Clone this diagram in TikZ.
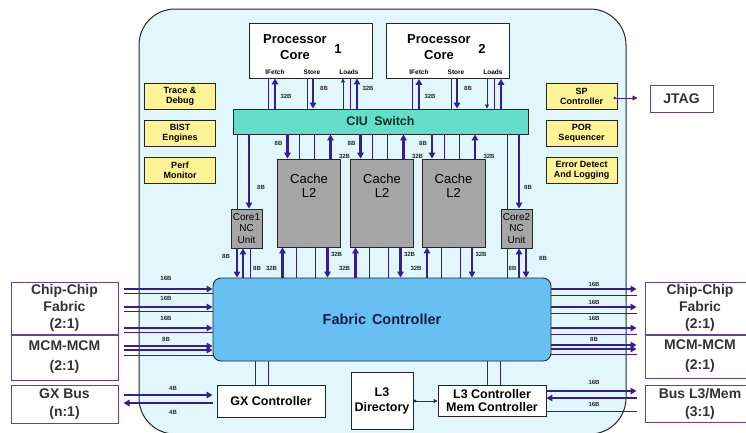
\documentclass[tikz,border=0pt]{standalone}
\usepackage{fontspec}
\setmainfont{Liberation Sans}
\usetikzlibrary{arrows.meta,positioning}
\definecolor{chipcyan}{RGB}{226,247,252}
\definecolor{ctlyellow}{RGB}{255,243,150}
\definecolor{ciuteal}{RGB}{100,222,202}
\definecolor{ciutext}{RGB}{10,50,40}
\definecolor{l2gray}{RGB}{166,166,166}
\definecolor{fabricblue}{RGB}{104,192,242}
\definecolor{fabrictext}{RGB}{20,30,70}
\definecolor{buspurple}{RGB}{52,30,150}
\definecolor{portpurple}{RGB}{96,64,160}

\begin{document}
\begin{tikzpicture}[x=1pt,y=-1pt,
  unitbox/.style={draw=black!85, line width=0.9pt, inner sep=0pt, align=center},
  corebox/.style={unitbox, fill=white, minimum width=123pt, minimum height=55pt},
  ctlbox/.style={unitbox, fill=ctlyellow, minimum width=71pt, minimum height=26pt,
    font=\fontsize{9}{10}\selectfont\bfseries},
  l2box/.style={unitbox, fill=l2gray, minimum width=63pt, minimum height=88pt},
  ncbox/.style={unitbox, fill=l2gray, minimum width=31pt, minimum height=39pt,
    font=\fontsize{10}{11.5}\selectfont},
  whitebox/.style={unitbox, fill=white, font=\fontsize{12.5}{14}\selectfont\bfseries},
  portbox/.style={draw=portpurple, line width=1pt, fill=white, inner sep=0pt,
    align=center, font=\fontsize{14}{17}\selectfont\bfseries, text=black!80},
  bus/.style={draw=buspurple, line width=2.4pt},
  wire/.style={draw=buspurple, line width=0.9pt},
  toarr/.style={-{Triangle[length=6pt,width=6.5pt]}},
  smallarr/.style={-{Triangle[length=4pt,width=4pt]}},
  bw/.style={font=\fontsize{6}{6}\selectfont\bfseries, text=black!85, inner sep=0pt},
  pinlbl/.style={font=\fontsize{6.5}{6.5}\selectfont\bfseries, inner sep=0pt}
]
  \useasboundingbox (0,0) rectangle (746,432);
  \fill[white] (0,0) rectangle (746,432);
  % chip outline
  \draw[fill=chipcyan, draw=black!85, line width=1pt, rounded corners=36pt]
    (139,9) rectangle (626,434);

  % processor cores
  \node[corebox] (core1) at (310.5,50.5) {};
  \node[corebox] (core2) at (447.5,51) {};
  \foreach \n/\dx in {1/0,2/144} {
    \node[font=\fontsize{13}{16}\selectfont\bfseries, align=center] (core\n-name) at (295+\dx,47) {Processor\\Core};
    \node[font=\fontsize{13}{16}\selectfont\bfseries] (core\n-num) at (338+\dx,49) {\n};
    \node[pinlbl] (core\n-ifetch) at (275+\dx,72) {IFetch};
    \node[pinlbl] (core\n-store) at (312+\dx,72) {Store};
    \node[pinlbl] (core\n-loads) at (349+\dx,72) {Loads};
  }

  % CIU switch
  \node[unitbox, fill=ciuteal, minimum width=295pt, minimum height=25pt,
        font=\fontsize{12.5}{14}\selectfont\bfseries, text=ciutext] (ciu) at (380.5,121.5) {CIU\hspace{0.5em}Switch};

  % control units
  \node[ctlbox] (trace) at (180,96) {Trace \&\\Debug};
  \node[ctlbox] (bist) at (180,133) {BIST\\Engines};
  \node[ctlbox] (perf) at (180,170) {Perf\\Monitor};
  \node[ctlbox] (sp) at (581.5,96) {SP\\Controller};
  \node[ctlbox] (por) at (581.5,133) {POR\\Sequencer};
  \node[ctlbox] (errlog) at (581.5,170) {Error Detect\\And Logging};
  \node[portbox, minimum width=63pt, minimum height=27pt] (jtag) at (681.5,98.5) {JTAG};
  \draw[wire, {Circle[length=2.5pt]}-{Triangle[length=5pt,width=5pt]}, shorten <=-4pt, shorten >=12pt]
    (sp.east |- 0,98) -- (jtag.west |- 0,98);

  % L2 slices and NC units
  \foreach \s/\cx in {a/309,b/382,c/453.5} {
    \node[l2box] (l2\s) at (\cx,203) {};
    \node[font=\fontsize{13}{14}\selectfont, align=center] (l2\s-txt) at (\cx,186) {Cache\\L2};
  }
  \node[ncbox] (nc1) at (246.5,228.5) {Core1\\NC\\Unit};
  \node[ncbox] (nc2) at (516.5,228.5) {Core2\\NC\\Unit};

  % fabric controller
  \node[unitbox, fill=fabricblue, rounded corners=8pt, minimum width=338pt, minimum height=83pt,
        font=\fontsize{14.5}{16}\selectfont\bfseries, text=fabrictext] (fabric) at (382,319.5) {Fabric\hspace{0.4em}Controller};

  % bottom units
  \node[whitebox, minimum width=108pt, minimum height=32pt] (gx) at (271,401) {GX Controller};
  \node[whitebox, minimum width=62pt, minimum height=57pt, font=\fontsize{12.5}{15}\selectfont\bfseries] (l3dir) at (382,400.5) {L3\\Directory};
  \node[whitebox, minimum width=108pt, minimum height=31pt, font=\fontsize{12.5}{13}\selectfont\bfseries] (l3ctl) at (492,400.5) {L3 Controller\\Mem Controller};

  % off-chip ports
  \node[portbox, minimum width=107pt, minimum height=52pt] (ccl) at (64.5,308) {Chip-Chip\\Fabric\\(2:1)};
  \node[portbox, minimum width=107pt, minimum height=46pt, font=\fontsize{14}{20}\selectfont\bfseries] (mcml) at (64.5,357) {MCM-MCM\\(2:1)};
  \node[portbox, minimum width=107pt, minimum height=38pt, font=\fontsize{14}{18}\selectfont\bfseries] (gxb) at (64.5,404) {GX Bus\\(n:1)};
  \node[portbox, minimum width=110pt, minimum height=52pt] (ccr) at (700,308) {Chip-Chip\\Fabric\\(2:1)};
  \node[portbox, minimum width=110pt, minimum height=44pt, font=\fontsize{14}{20}\selectfont\bfseries] (mcmr) at (700,356) {MCM-MCM\\(2:1)};
  \node[portbox, minimum width=110pt, minimum height=37pt, font=\fontsize{14}{18}\selectfont\bfseries] (blr) at (700,403.5) {Bus L3/Mem\\(3:1)};
  \draw[portpurple, line width=2pt] (ccl.south west) -- (ccl.south east);
  \draw[portpurple, line width=2pt] (ccr.south west) -- (ccr.south east);

  % cores <-> CIU
  \foreach \n/\dx in {1/0,2/144} {
    \draw[wire] (ciu.north -| 268+\dx,0) -- (core\n.south -| 268+\dx,0);
    \draw[bus,toarr] (ciu.north -| 275+\dx,0) -- (core\n.south -| 275+\dx,0);
    \draw[wire] (ciu.north -| 307+\dx,0) -- (core\n.south -| 307+\dx,0);
    \draw[bus,toarr] (core\n.south -| 313+\dx,0) -- (ciu.north -| 313+\dx,0);
    \draw[wire] (ciu.north -| 350+\dx,0) -- (core\n.south -| 350+\dx,0);
    \draw[bus,toarr] (ciu.north -| 357+\dx,0) -- (core\n.south -| 357+\dx,0);
    \node[bw] (bw-if\n) at (286+\dx,96) {32B};
    \node[bw] (bw-st\n) at (324+\dx,88) {8B};
  }
  \draw[wire,smallarr] (ciu.north -| 343,0) -- (core1.south -| 343,0);
  \draw[wire,smallarr] (core2.south -| 487,0) -- (ciu.north -| 487,0);
  \node[bw] (bw-ld1) at (368,88) {32B};

  % CIU <-> NC units
  \draw[wire] (ciu.south -| 237,0) -- (nc1.north -| 237,0);
  \draw[bus,toarr] (ciu.south -| 249,0) -- (nc1.north -| 249,0);
  \node[bw] (bw-nc1) at (261,187) {8B};
  \draw[wire] (ciu.south -| 507,0) -- (nc2.north -| 507,0);
  \draw[bus,toarr] (ciu.south -| 519,0) -- (nc2.north -| 519,0);
  \node[bw] (bw-nc2) at (528,187) {8B};

  % CIU <-> L2 <-> fabric
  \foreach \s/\cx in {a/309,b/382,c/453.5} {
    \draw[bus,toarr] (ciu.south -| \cx-21.5,0) -- (l2\s.north -| \cx-21.5,0);
    \draw[wire] (ciu.south -| \cx-9.5,0) -- (l2\s.north -| \cx-9.5,0);
    \draw[wire] (ciu.south -| \cx+5.5,0) -- (l2\s.north -| \cx+5.5,0);
    \draw[bus,toarr] (l2\s.north -| \cx+21.5,0) -- (ciu.south -| \cx+21.5,0);
    \node[bw] (bw-\s-in) at (\cx-30.5,143) {8B};
    \node[bw] (bw-\s-out) at (\cx+35.5,156) {32B};
    \draw[bus,toarr] (fabric.north -| \cx-26.5,0) -- (l2\s.south -| \cx-26.5,0);
    \draw[wire] (fabric.north -| \cx-12.5,0) -- (l2\s.south -| \cx-12.5,0);
    \draw[wire] (fabric.north -| \cx+6.5,0) -- (l2\s.south -| \cx+6.5,0);
    \draw[bus,toarr] (l2\s.south -| \cx+18.5,0) -- (fabric.north -| \cx+18.5,0);
    \node[bw] (bw-\s-fin) at (\cx-37.5,268) {32B};
    \node[bw] (bw-\s-fout) at (\cx+27.5,254) {32B};
  }

  % NC units <-> fabric
  \draw[bus,toarr] (nc1.south -| 237,0) -- (fabric.north -| 237,0);
  \draw[bus,toarr] (fabric.north -| 243,0) -- (nc1.south -| 243,0);
  \draw[wire] (nc1.south -| 250,0) -- (fabric.north -| 250,0);
  \node[bw] (bw-nc1-a) at (226,256) {8B};
  \node[bw] (bw-nc1-b) at (257,268) {8B};
  \draw[wire] (nc2.south -| 507,0) -- (fabric.north -| 507,0);
  \draw[bus,toarr] (fabric.north -| 519,0) -- (nc2.south -| 519,0);
  \draw[bus,toarr] (nc2.south -| 526,0) -- (fabric.north -| 526,0);
  \node[bw] (bw-nc2-a) at (512.5,268) {8B};
  \node[bw] (bw-nc2-b) at (543,258) {8B};

  % left ports -> fabric
  \foreach \y in {289,307,328} {
    \draw[bus,toarr,shorten <=5pt] (ccl.east |- 0,\y) -- (fabric.west |- 0,\y);
    \draw[wire,shorten <=5pt] (ccl.east |- 0,\y+4.5) -- (fabric.west |- 0,\y+4.5);
  }
  \draw[bus,toarr,shorten <=5pt] (mcml.east |- 0,346) -- (fabric.west |- 0,346);
  \draw[bus,toarr,shorten <=5pt] (mcml.east |- 0,350) -- (fabric.west |- 0,350);
  \draw[wire,shorten <=5pt] (mcml.east |- 0,355) -- (fabric.west |- 0,355);
  \foreach \y/\t [count=\i] in {278/16B,298/16B,318/16B,339/8B}
    \node[bw] (bw-l\i) at (166,\y) {\t};
  \draw[bus,toarr,shorten <=5pt,shorten >=4pt] (gxb.east |- 0,395) -- (gx.west |- 0,395);
  \draw[bus,toarr,shorten <=4pt,shorten >=5pt] (gx.west |- 0,403) -- (gxb.east |- 0,403);
  \node[bw] (bw-gx1) at (173,388) {4B};
  \node[bw] (bw-gx2) at (173,412) {4B};

  % fabric -> right ports
  \foreach \y in {289,307,328} {
    \draw[bus,toarr,shorten >=8pt] (fabric.east |- 0,\y) -- (ccr.west |- 0,\y);
    \draw[wire,shorten >=8pt] (fabric.east |- 0,\y+6) -- (ccr.west |- 0,\y+6);
  }
  \draw[bus,toarr,shorten >=8pt] (fabric.east |- 0,345) -- (mcmr.west |- 0,345);
  \draw[bus,toarr,shorten >=8pt] (fabric.east |- 0,349) -- (mcmr.west |- 0,349);
  \draw[wire,shorten >=8pt] (fabric.east |- 0,354) -- (mcmr.west |- 0,354);
  \draw[bus,toarr,shorten >=8pt] (l3ctl.east |- 0,391) -- (blr.west |- 0,391);
  \draw[bus,toarr,shorten <=8pt] (blr.west |- 0,398) -- (l3ctl.east |- 0,398);
  \draw[wire,shorten >=8pt] (l3ctl.east |- 0,411) -- (blr.west |- 0,411);
  \foreach \y/\t [count=\i] in {284/16B,302/16B,318/16B,339/8B,382/16B,404/16B}
    \node[bw] (bw-r\i) at (594,\y) {\t};

  % fabric <-> GX and L3 controllers
  \foreach \x in {255,268}
    \draw[wire] (fabric.south -| \x,0) -- (gx.north -| \x,0);
  \foreach \x in {487,500}
    \draw[wire] (fabric.south -| \x,0) -- (l3ctl.north -| \x,0);
  \draw[wire, {Circle[length=3pt]}-{Triangle[length=4pt,width=4pt]}] (l3dir.east |- 0,401) -- (l3ctl.west |- 0,401);
\end{tikzpicture}
\end{document}
